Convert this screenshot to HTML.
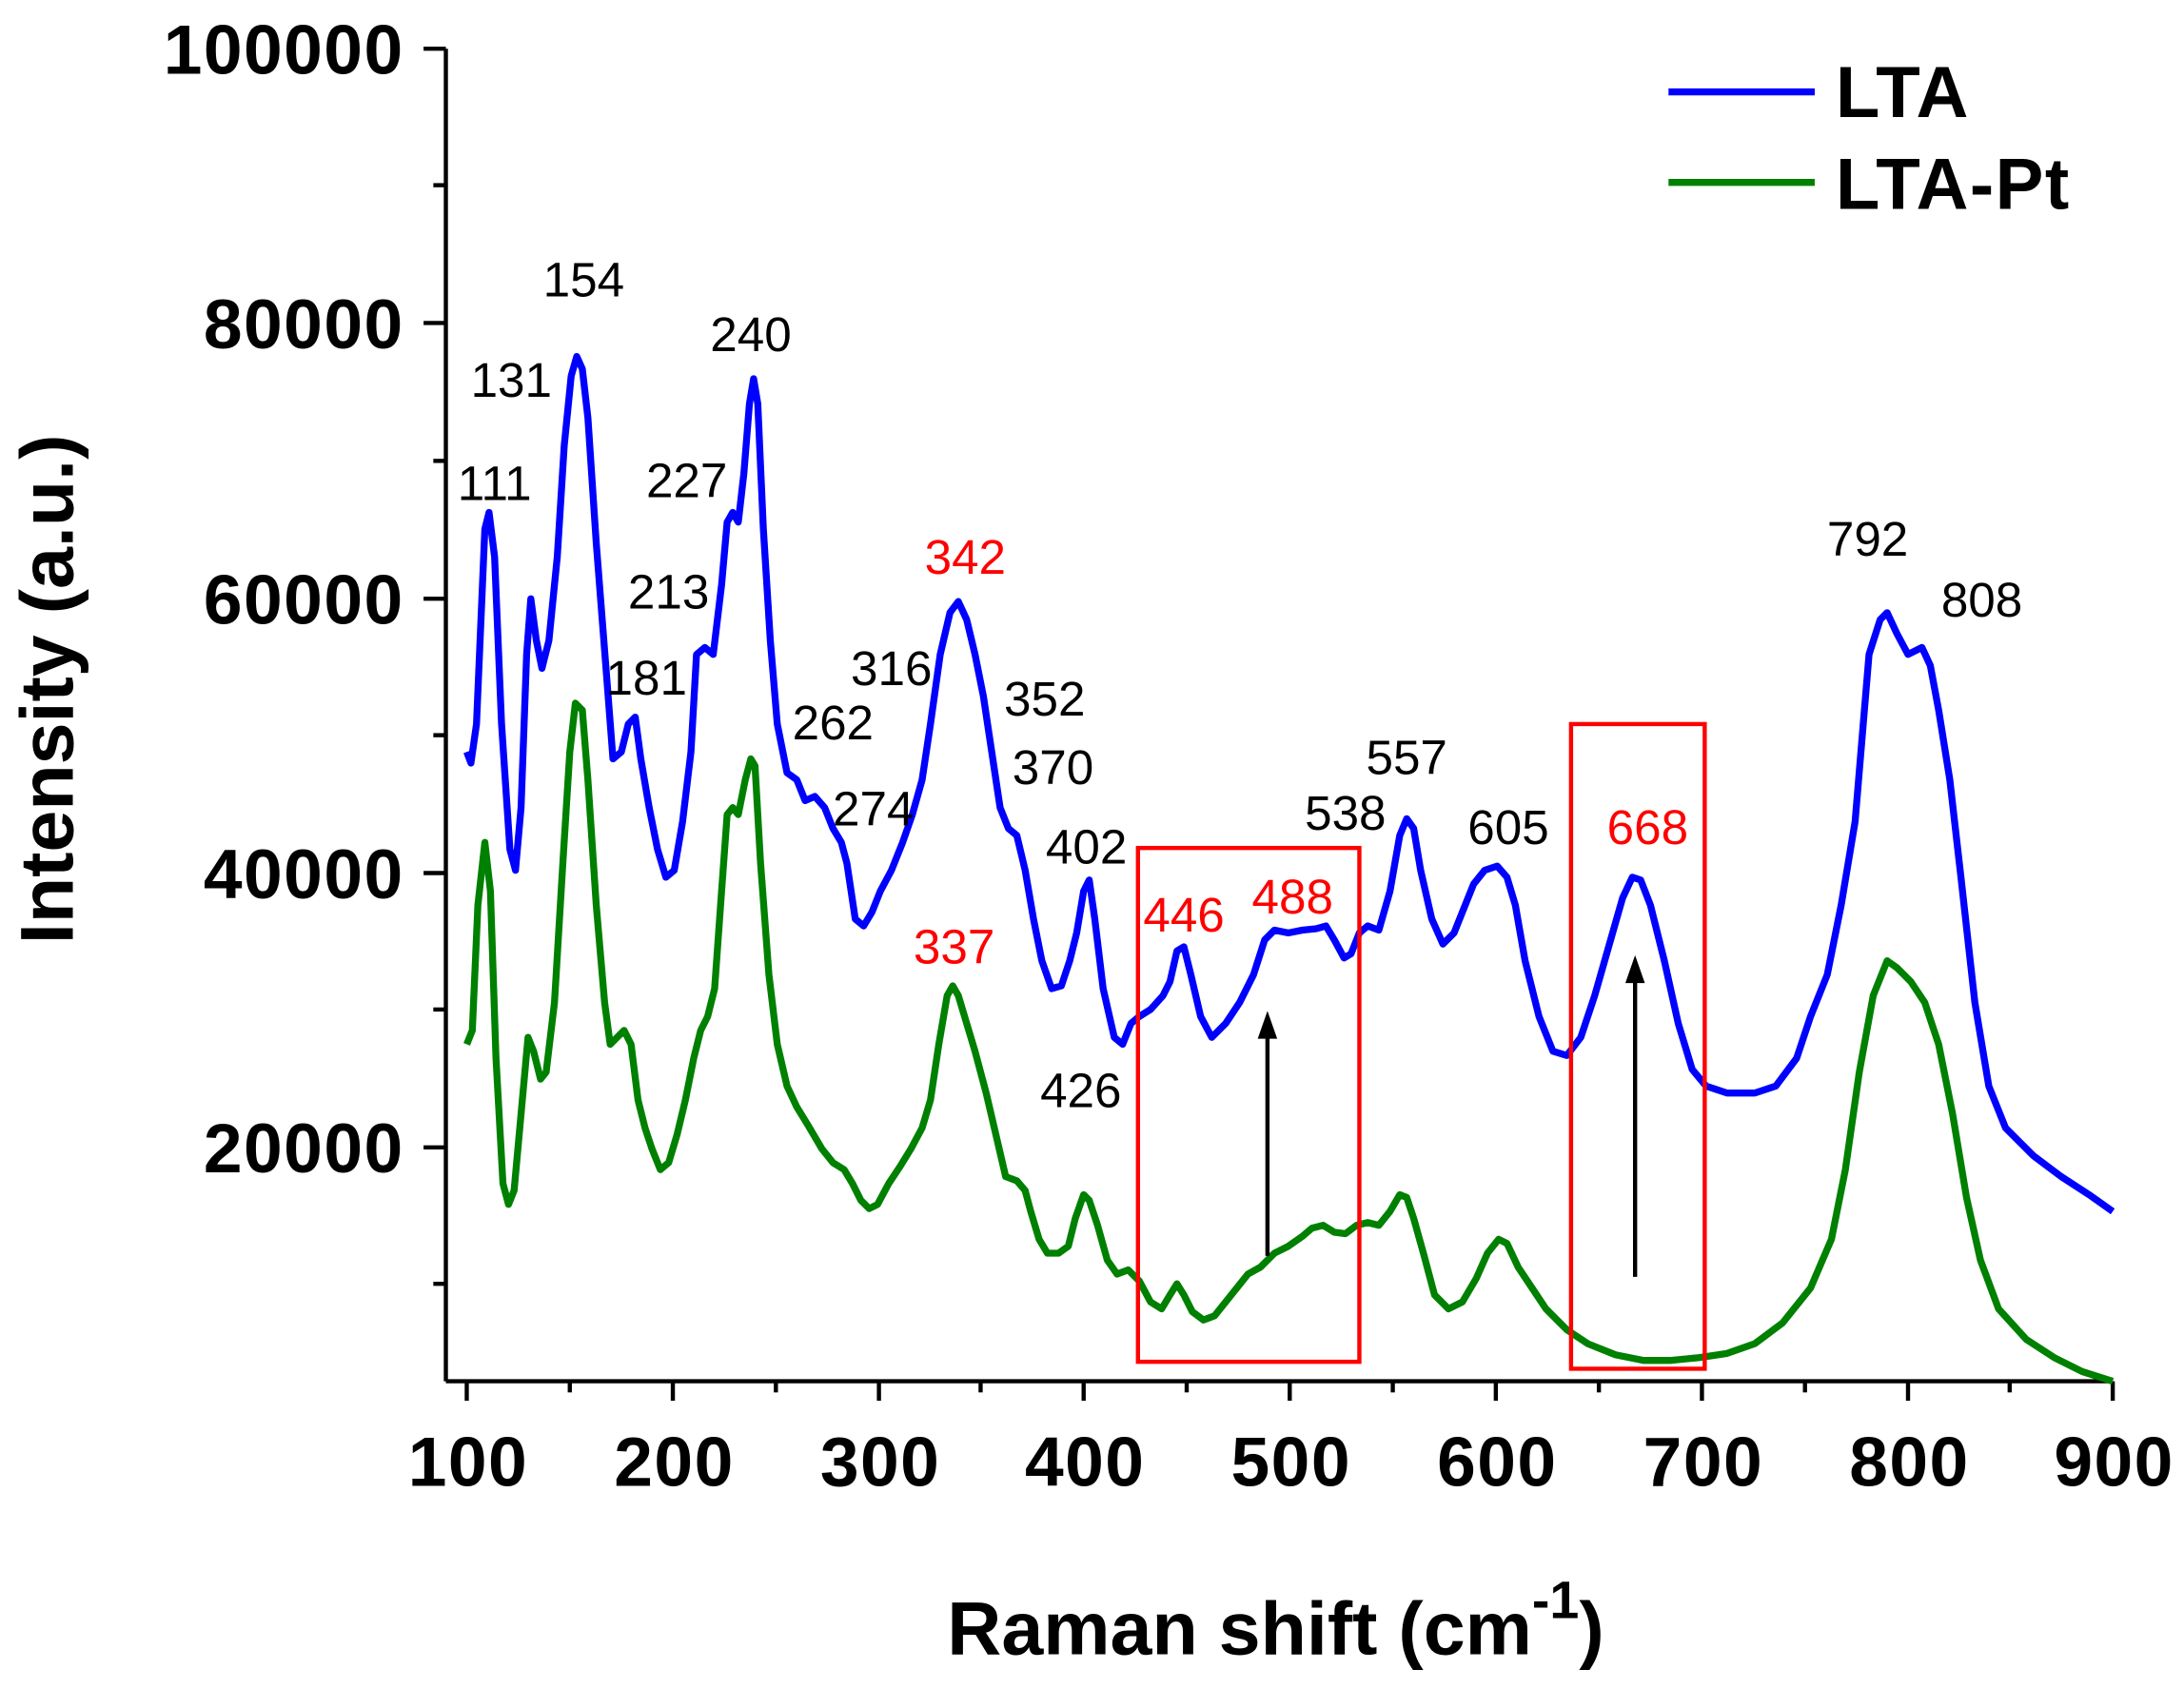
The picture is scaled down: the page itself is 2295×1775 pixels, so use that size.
<!DOCTYPE html>
<html><head><meta charset="utf-8"><style>html,body{margin:0;padding:0;background:#fff}svg{display:block}</style></head>
<body>
<svg width="2295" height="1775" viewBox="0 0 1568 1213" xmlns="http://www.w3.org/2000/svg" font-family="Liberation Sans, Arial, sans-serif">
<rect width="1568" height="1213" fill="#fff"/>
<g stroke="#000" stroke-width="3" fill="none">
<line x1="320" y1="35" x2="320" y2="992"/>
<line x1="320" y1="992" x2="1517" y2="992"/>
<line x1="304" y1="35" x2="320" y2="35"/><line x1="304" y1="232" x2="320" y2="232"/><line x1="304" y1="430" x2="320" y2="430"/><line x1="304" y1="627" x2="320" y2="627"/><line x1="304" y1="824" x2="320" y2="824"/>
<line x1="311" y1="133" x2="320" y2="133"/><line x1="311" y1="331" x2="320" y2="331"/><line x1="311" y1="528" x2="320" y2="528"/><line x1="311" y1="725" x2="320" y2="725"/><line x1="311" y1="922" x2="320" y2="922"/>
<line x1="335" y1="992" x2="335" y2="1006"/><line x1="483" y1="992" x2="483" y2="1006"/><line x1="631" y1="992" x2="631" y2="1006"/><line x1="778" y1="992" x2="778" y2="1006"/><line x1="926" y1="992" x2="926" y2="1006"/><line x1="1074" y1="992" x2="1074" y2="1006"/><line x1="1222" y1="992" x2="1222" y2="1006"/><line x1="1370" y1="992" x2="1370" y2="1006"/><line x1="1517" y1="992" x2="1517" y2="1006"/>
<line x1="409" y1="992" x2="409" y2="1000"/><line x1="557" y1="992" x2="557" y2="1000"/><line x1="704" y1="992" x2="704" y2="1000"/><line x1="852" y1="992" x2="852" y2="1000"/><line x1="1000" y1="992" x2="1000" y2="1000"/><line x1="1148" y1="992" x2="1148" y2="1000"/><line x1="1296" y1="992" x2="1296" y2="1000"/><line x1="1443" y1="992" x2="1443" y2="1000"/>
</g>
<g font-weight="bold" font-size="50" text-anchor="end" letter-spacing="1">
<text x="290" y="53">100000</text><text x="290" y="250">80000</text><text x="290" y="448">60000</text><text x="290" y="645">40000</text><text x="290" y="842">20000</text>
</g>
<g font-weight="bold" font-size="50" text-anchor="middle" letter-spacing="1">
<text x="336" y="1067">100</text><text x="484" y="1067">200</text><text x="632" y="1067">300</text><text x="779" y="1067">400</text><text x="927" y="1067">500</text><text x="1075" y="1067">600</text><text x="1223" y="1067">700</text><text x="1371" y="1067">800</text><text x="1518" y="1067">900</text>
</g>
<text x="680" y="1188" font-weight="bold" font-size="54">Raman shift (cm<tspan dy="-26" font-size="38">-1</tspan><tspan dy="26">)</tspan></text>
<text transform="translate(52,495) rotate(-90)" text-anchor="middle" font-weight="bold" font-size="54">Intensity (a.u.)</text>
<polyline fill="none" stroke="#0000ff" stroke-width="5" stroke-linejoin="round" points="335,540 338,548 342,520 348,380 351,368 355,400 360,520 366,610 370,625 374,580 378,470 381,430 385,460 389,480 394,460 400,400 405,320 410,270 414,256 418,265 422,300 428,390 435,480 440,545 446,540 451,520 456,515 460,545 466,580 472,610 478,630 484,625 490,590 496,540 500,470 506,465 512,470 518,420 522,375 526,368 530,375 534,340 538,290 541,272 544,290 548,380 553,460 558,520 565,555 572,560 578,575 585,572 592,580 598,595 604,605 608,620 614,660 620,665 626,655 632,640 640,625 648,605 655,585 662,560 668,520 675,470 682,440 688,432 694,445 700,470 706,500 712,540 718,580 724,595 730,600 736,625 742,660 748,690 755,710 762,708 768,690 773,670 778,640 782,632 786,660 792,710 800,745 806,750 812,735 818,730 826,725 835,715 840,705 845,683 850,680 855,700 862,730 870,745 880,735 890,720 900,700 908,675 915,668 925,670 935,668 945,667 952,665 958,675 965,688 970,685 976,670 982,665 990,668 998,640 1005,600 1010,588 1015,595 1020,625 1028,660 1036,678 1044,670 1052,650 1058,635 1066,625 1075,622 1082,630 1088,650 1095,690 1105,730 1115,755 1125,758 1135,745 1145,715 1155,680 1165,645 1172,630 1178,632 1185,650 1195,690 1205,735 1215,768 1225,780 1240,785 1260,785 1275,780 1290,760 1300,730 1312,700 1322,650 1332,590 1342,470 1350,445 1355,440 1362,455 1370,470 1380,465 1386,478 1392,510 1400,560 1408,630 1418,720 1428,780 1440,810 1460,830 1480,845 1500,858 1517,870"/>
<polyline fill="none" stroke="#008000" stroke-width="5" stroke-linejoin="round" points="335,750 339,740 343,650 348,605 352,640 356,760 361,850 365,865 369,855 374,800 379,745 383,755 388,775 392,770 398,720 404,620 409,540 413,505 418,510 422,560 428,650 434,720 438,750 443,745 448,740 453,750 458,790 463,810 468,825 474,840 480,835 486,815 492,790 498,760 503,740 508,730 513,710 518,640 522,585 526,580 530,585 535,560 539,545 542,550 546,620 552,700 558,750 565,780 572,795 580,808 590,825 598,835 606,840 612,850 618,862 624,868 630,865 638,850 646,838 654,825 662,810 668,790 674,750 680,715 684,708 688,715 694,735 700,755 708,785 715,815 722,845 730,848 736,855 740,870 746,890 752,900 760,900 767,895 772,875 778,858 782,862 788,880 795,905 802,915 810,912 818,920 826,935 834,940 840,930 845,922 850,930 856,942 864,948 872,945 880,935 888,925 896,915 905,910 915,900 925,895 935,888 942,882 950,880 958,885 966,886 974,880 982,878 990,880 998,870 1005,858 1010,860 1015,875 1022,900 1030,930 1040,940 1050,935 1060,918 1068,900 1076,890 1082,893 1090,910 1100,925 1110,940 1125,955 1140,965 1160,973 1180,977 1200,977 1220,975 1240,972 1260,965 1280,950 1300,925 1315,890 1325,840 1335,770 1345,715 1355,690 1362,695 1372,705 1382,720 1392,750 1402,800 1412,860 1422,905 1435,940 1455,962 1475,975 1495,985 1517,992"/>
<g fill="none" stroke="#ff0000" stroke-width="3"><rect x="817" y="609" width="159" height="369"/><rect x="1128" y="520" width="96" height="463"/></g>
<g stroke="#000" stroke-width="3"><line x1="910" y1="902" x2="910" y2="740"/><line x1="1174" y1="917" x2="1174" y2="700"/></g>
<polygon points="910,726 903,746 917,746" fill="#000"/><polygon points="1174,686 1167,706 1181,706" fill="#000"/>
<g font-size="35" text-anchor="middle">
<text x="355" y="359">111</text><text x="367" y="285">131</text><text x="419" y="213">154</text><text x="464" y="499">181</text><text x="480" y="437">213</text><text x="493" y="357">227</text><text x="539" y="252">240</text><text x="598" y="531">262</text><text x="627" y="593">274</text><text x="640" y="492">316</text><text x="750" y="514">352</text><text x="756" y="563">370</text><text x="780" y="620">402</text><text x="776" y="795">426</text><text x="966" y="596">538</text><text x="1010" y="556">557</text><text x="1083" y="606">605</text><text x="1341" y="399">792</text><text x="1423" y="443">808</text>
<g fill="#ff0000"><text x="693" y="412">342</text><text x="685" y="692">337</text><text x="850" y="669">446</text><text x="928" y="656">488</text><text x="1183" y="606">668</text></g>
</g>
<line x1="1198" y1="66" x2="1303" y2="66" stroke="#0000ff" stroke-width="5"/>
<line x1="1198" y1="131" x2="1303" y2="131" stroke="#008000" stroke-width="5"/>
<text x="1318" y="84" font-weight="bold" font-size="52" letter-spacing="1">LTA</text>
<text x="1318" y="150" font-weight="bold" font-size="52" letter-spacing="1">LTA-Pt</text>
</svg>
</body></html>
